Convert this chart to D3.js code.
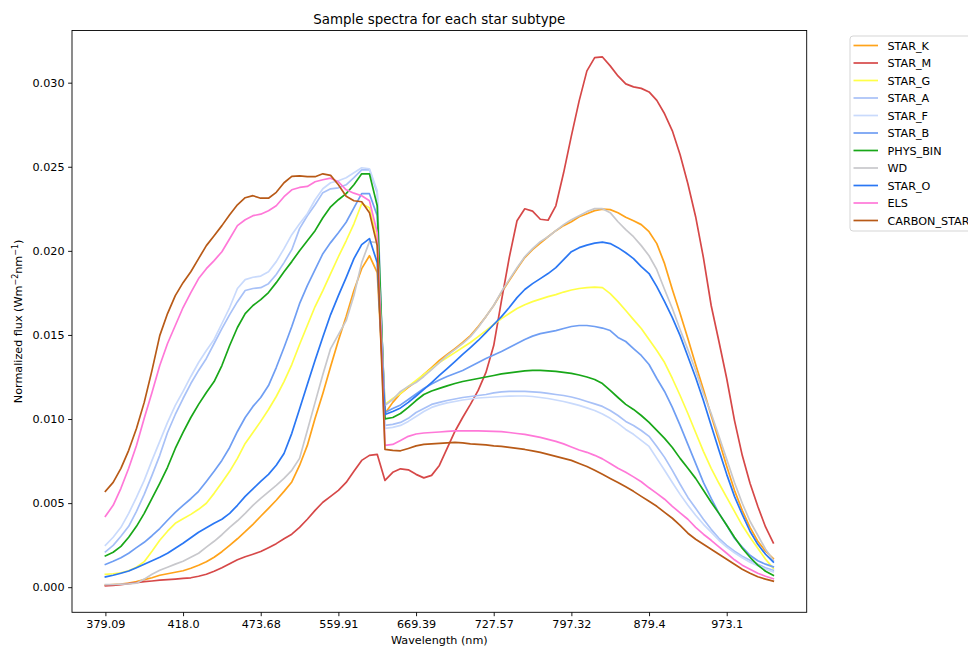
<!DOCTYPE html>
<html>
<head>
<meta charset="utf-8">
<script src="https://cdn.jsdelivr.net/npm/d3@7"></script>
<style>
  body { margin: 0; background: #fff; }
  text { font-family: "DejaVu Sans", sans-serif; }
</style>
</head>
<body>
<div id="spectraPlot"></div>
<script>
// flux per sampled pixel, in units of 1e-3 W m^-2 nm^-1
const FLUX_UNIT = 1e-3;

// sample index of each x tick and the wavelength shown there
const TICK_INDEX = [0, 10, 20, 30, 40, 50, 60, 70, 80];
const TICK_LABELS = ['379.09', '418.0', '473.68', '559.91', '669.39',
                     '727.57', '797.32', '879.4', '973.1'];
const Y_TICKS = [0, 0.005, 0.010, 0.015, 0.020, 0.025, 0.030];

const STAR_K = [0.12,0.15,0.18,0.24,0.33,0.45,0.56,0.71,0.80,0.89,
  0.98,1.13,1.31,1.51,1.78,2.11,2.49,2.88,3.30,3.74,
  4.22,4.69,5.17,5.70,6.26,7.24,8.43,10.04,11.52,13.12,
  14.67,16.09,17.64,18.94,19.71,18.70,10.33,10.99,11.52,11.88,
  12.23,12.65,13.06,13.48,13.84,14.19,14.55,14.96,15.50,16.09,
  16.75,17.52,18.23,18.94,19.60,20.07,20.46,20.84,21.20,21.50,
  21.73,22.03,22.21,22.39,22.48,22.45,22.27,22.00,21.79,21.56,
  21.14,20.43,19.24,17.70,16.27,14.79,13.24,11.76,10.21,8.73,
  7.19,5.76,4.57,3.56,2.73,2.14,1.70];
const STAR_M = [0.08,0.10,0.15,0.21,0.27,0.33,0.37,0.42,0.45,0.48,
  0.52,0.56,0.65,0.77,0.95,1.16,1.40,1.63,1.81,1.96,
  2.12,2.35,2.59,2.88,3.15,3.56,4.04,4.57,5.05,5.40,
  5.76,6.23,6.89,7.54,7.84,7.90,6.35,6.83,7.04,6.98,
  6.71,6.50,6.65,7.24,8.25,9.26,10.09,10.87,11.70,12.77,
  14.37,17.04,19.60,21.79,22.50,22.36,21.88,21.82,22.68,24.64,
  26.84,28.92,30.70,31.49,31.53,31.00,30.40,29.93,29.75,29.66,
  29.45,28.95,28.15,27.14,25.71,23.99,22.03,19.60,16.75,14.61,
  12.41,9.92,7.84,6.18,4.81,3.58,2.63];
const STAR_G = [0.77,0.80,0.86,0.98,1.19,1.52,2.14,2.79,3.33,3.80,
  4.07,4.33,4.63,4.99,5.58,6.23,6.89,7.66,8.55,9.20,
  9.86,10.57,11.34,12.23,13.24,14.43,15.56,16.69,17.64,18.65,
  19.65,20.60,21.61,22.80,22.56,20.60,10.87,11.22,11.52,11.94,
  12.29,12.65,13.00,13.36,13.66,13.95,14.25,14.55,14.90,15.26,
  15.62,15.97,16.27,16.57,16.80,16.98,17.13,17.28,17.40,17.55,
  17.67,17.76,17.81,17.84,17.81,17.46,16.98,16.45,15.91,15.38,
  14.73,14.07,13.36,12.41,11.40,10.33,9.20,8.08,7.07,6.18,
  5.34,4.51,3.68,2.97,2.32,1.66,1.13];
const STAR_A = [2.10,2.49,3.03,3.62,4.51,5.52,6.65,7.84,9.20,10.27,
  11.22,12.11,12.89,13.60,14.49,15.38,16.21,16.98,17.64,17.76,
  17.81,18.05,18.59,19.30,20.07,21.32,22.09,22.74,23.46,23.69,
  23.75,23.93,24.35,24.82,24.82,23.46,9.62,9.68,9.80,10.04,
  10.39,10.63,10.87,10.99,11.10,11.19,11.28,11.34,11.40,11.46,
  11.55,11.61,11.64,11.64,11.64,11.61,11.58,11.52,11.46,11.40,
  11.31,11.19,11.04,10.90,10.75,10.51,10.21,9.86,9.62,9.32,
  8.97,8.37,7.72,6.95,6.12,5.34,4.69,4.04,3.44,2.91,
  2.49,2.14,1.84,1.60,1.37,1.16,1.01];
const STAR_F = [2.49,2.97,3.56,4.39,5.34,6.35,7.54,8.67,9.80,10.81,
  11.64,12.53,13.36,14.07,14.73,15.68,16.63,17.76,18.29,18.43,
  18.50,18.76,19.36,20.13,20.96,21.61,22.21,23.04,23.69,24.05,
  24.17,24.35,24.64,24.94,24.88,23.57,9.44,9.50,9.62,9.86,
  10.15,10.45,10.69,10.84,10.96,11.04,11.13,11.19,11.25,11.28,
  11.31,11.34,11.36,11.37,11.37,11.34,11.28,11.22,11.13,11.04,
  10.93,10.81,10.66,10.51,10.30,10.04,9.74,9.38,9.09,8.73,
  8.37,7.66,6.95,6.23,5.52,4.87,4.28,3.74,3.27,2.79,
  2.38,2.05,1.75,1.48,1.28,1.07,0.91];
const STAR_B = [1.35,1.54,1.75,2.02,2.35,2.67,3.06,3.49,3.98,4.45,
  4.87,5.26,5.70,6.29,6.89,7.54,8.31,9.26,10.09,10.75,
  11.28,11.99,13.06,14.25,15.50,16.86,17.93,18.88,19.83,20.49,
  21.08,21.70,22.56,23.40,23.40,22.09,10.39,10.63,10.84,11.16,
  11.49,11.82,12.08,12.32,12.53,12.71,12.89,13.12,13.36,13.60,
  13.81,14.01,14.25,14.49,14.73,14.93,15.08,15.17,15.26,15.38,
  15.50,15.56,15.56,15.50,15.41,15.26,14.85,14.61,14.19,13.78,
  13.24,12.41,11.64,10.69,9.62,8.49,7.36,6.23,5.28,4.39,
  3.68,2.91,2.38,1.90,1.57,1.37,1.21];
const PHYS_BIN = [1.86,2.08,2.43,2.97,3.62,4.39,5.28,6.18,7.13,8.25,
  9.20,10.09,10.87,11.58,12.23,13.18,14.37,15.44,16.27,16.75,
  17.10,17.52,18.11,18.76,19.36,20.01,20.60,21.20,21.97,22.62,
  23.04,23.40,23.93,24.58,24.58,22.68,10.01,10.09,10.33,10.69,
  11.10,11.46,11.67,11.82,11.97,12.11,12.23,12.32,12.41,12.50,
  12.59,12.68,12.74,12.80,12.86,12.89,12.89,12.86,12.83,12.77,
  12.71,12.62,12.50,12.35,12.11,11.70,11.28,10.87,10.57,10.21,
  9.80,9.32,8.85,8.31,7.66,7.07,6.47,5.76,5.05,4.39,
  3.68,2.97,2.32,1.78,1.31,0.95,0.71];
const WD = [0.15,0.16,0.18,0.20,0.24,0.48,0.77,1.01,1.19,1.37,
  1.54,1.78,2.02,2.38,2.73,3.12,3.56,3.95,4.39,4.87,
  5.28,5.67,6.06,6.47,6.95,7.66,9.32,10.99,12.65,14.19,
  15.02,15.85,17.34,19.30,20.55,20.49,10.81,11.16,11.64,11.94,
  12.17,12.53,12.94,13.36,13.78,14.13,14.49,14.90,15.44,16.09,
  16.75,17.58,18.29,19.00,19.65,20.13,20.55,20.84,21.20,21.56,
  21.85,22.09,22.33,22.51,22.51,22.27,21.73,21.26,20.84,20.31,
  19.71,18.88,17.70,16.57,15.32,14.13,12.89,11.52,10.33,8.97,
  7.60,6.23,4.99,3.92,3.09,2.26,1.60];
const STAR_O = [0.61,0.71,0.83,0.96,1.16,1.37,1.57,1.78,2.02,2.32,
  2.61,2.94,3.27,3.53,3.80,4.04,4.39,4.87,5.40,5.85,
  6.29,6.71,7.25,7.95,9.15,10.60,12.05,13.49,14.88,16.21,
  17.34,18.41,19.54,20.37,20.73,19.30,10.27,10.45,10.66,10.99,
  11.37,11.76,12.17,12.59,13.00,13.42,13.84,14.25,14.67,15.14,
  15.62,16.09,16.63,17.22,17.70,18.05,18.35,18.65,19.00,19.48,
  19.95,20.19,20.34,20.46,20.52,20.43,20.19,19.89,19.54,19.06,
  18.65,17.87,16.98,16.03,14.96,13.72,12.47,11.10,9.62,8.14,
  6.71,5.40,4.33,3.33,2.55,1.96,1.50];
const ELS = [4.22,4.87,5.88,7.07,8.43,10.04,11.58,13.18,14.49,15.56,
  16.63,17.52,18.35,18.94,19.42,19.95,20.72,21.50,21.85,22.09,
  22.18,22.39,22.68,23.22,23.63,23.77,23.83,24.11,24.23,24.32,
  24.11,23.63,23.43,23.28,22.98,21.08,8.43,8.49,8.73,8.97,
  9.11,9.17,9.20,9.23,9.26,9.29,9.29,9.29,9.29,9.28,
  9.26,9.25,9.20,9.14,9.09,9.00,8.91,8.79,8.67,8.52,
  8.34,8.16,8.02,7.84,7.63,7.36,7.07,6.83,6.56,6.27,
  5.91,5.58,5.23,4.81,4.42,4.04,3.56,3.15,2.79,2.40,
  2.02,1.63,1.31,1.07,0.83,0.65,0.50];
const CARBON_STAR = [5.70,6.23,7.07,8.14,9.44,10.99,12.89,14.96,16.27,17.34,
  18.11,18.76,19.54,20.31,20.90,21.50,22.15,22.74,23.16,23.28,
  23.13,23.13,23.48,24.05,24.43,24.46,24.41,24.41,24.58,24.49,
  23.93,23.25,22.98,22.92,22.27,20.31,8.19,8.14,8.11,8.25,
  8.40,8.49,8.52,8.55,8.58,8.61,8.58,8.52,8.49,8.46,
  8.40,8.37,8.31,8.25,8.19,8.11,8.02,7.90,7.78,7.66,
  7.54,7.36,7.18,6.95,6.71,6.47,6.23,5.97,5.70,5.40,
  5.11,4.81,4.45,4.10,3.68,3.21,2.85,2.55,2.26,1.96,
  1.66,1.37,1.07,0.83,0.62,0.48,0.36];

const SUBTYPES = ['STAR_K', 'STAR_M', 'STAR_G', 'STAR_A', 'STAR_F', 'STAR_B',
                  'PHYS_BIN', 'WD', 'STAR_O', 'ELS', 'CARBON_STAR'];
const SERIES = [STAR_K, STAR_M, STAR_G, STAR_A, STAR_F, STAR_B,
                PHYS_BIN, WD, STAR_O, ELS, CARBON_STAR];
const LINE_COLOURS = ['#ffa31a', '#d64848', '#ffff47', '#a8c1f7', '#c9dafc', '#6f9ef3',
                      '#18a718', '#c8c8cc', '#2a77f4', '#ff78d8', '#b85a17'];

function plotSpectra() {
  var W = 968, H = 647;
  var box = {left: 72, top: 30.5, right: 806.7, bottom: 612.3};
  var fontSize = 11.2;

  var svg = d3.select("#spectraPlot")
    .append("svg")
      .attr("width", W)
      .attr("height", H);

  // matplotlib style 5% margins on both axes
  var n = SERIES[0].length;
  var xPad = 0.05 * (n - 1);
  var x = d3.scaleLinear()
            .domain([-xPad, n - 1 + xPad])
            .range([box.left, box.right]);

  var allValues = [].concat.apply([], SERIES).map(function(v) { return v * FLUX_UNIT; });
  var yMin = d3.min(allValues), yMax = d3.max(allValues);
  var yPad = 0.05 * (yMax - yMin);
  var y = d3.scaleLinear()
            .domain([yMin - yPad, yMax + yPad])
            .range([box.bottom, box.top]);

  svg.append("clipPath").attr("id", "plotArea")
    .append("rect")
      .attr("x", box.left).attr("y", box.top)
      .attr("width", box.right - box.left)
      .attr("height", box.bottom - box.top);

  // spectra
  var line = d3.line()
    .x(function(d, i) { return x(i); })
    .y(function(d) { return y(d * FLUX_UNIT); });

  svg.append("g")
      .attr("clip-path", "url(#plotArea)")
    .selectAll("path")
    .data(SERIES)
    .enter()
    .append("path")
      .attr("d", line)
      .attr("fill", "none")
      .attr("stroke", function(d, i) { return LINE_COLOURS[i]; })
      .attr("stroke-width", 1.7)
      .attr("stroke-linejoin", "round")
      .attr("stroke-linecap", "square");

  // axes
  var xAxis = svg.append("g")
    .attr("transform", "translate(0," + box.bottom + ")")
    .call(d3.axisBottom(x)
            .tickValues(TICK_INDEX)
            .tickFormat(function(d, i) { return TICK_LABELS[i]; })
            .tickSize(3.9)
            .tickPadding(3.6));
  var yAxis = svg.append("g")
    .attr("transform", "translate(" + box.left + ",0)")
    .call(d3.axisLeft(y)
            .tickValues(Y_TICKS)
            .tickFormat(d3.format(".3f"))
            .tickSize(3.9)
            .tickPadding(3.6));

  [xAxis, yAxis].forEach(function(g) {
    g.select(".domain").remove();
    g.attr("font-family", "DejaVu Sans").attr("font-size", fontSize);
    g.selectAll(".tick line").attr("stroke", "#000").attr("stroke-width", 0.9);
    g.selectAll(".tick text").attr("fill", "#000");
  });

  svg.append("rect")
      .attr("x", box.left).attr("y", box.top)
      .attr("width", box.right - box.left)
      .attr("height", box.bottom - box.top)
      .attr("fill", "none")
      .attr("stroke", "#000")
      .attr("stroke-width", 0.9);

  // titles
  var midX = (box.left + box.right) / 2;
  svg.append("text")
      .attr("x", midX)
      .attr("y", 23.5)
      .attr("text-anchor", "middle")
      .attr("font-size", 13.4)
      .text("Sample spectra for each star subtype");
  svg.append("text")
      .attr("x", midX)
      .attr("y", 644)
      .attr("text-anchor", "middle")
      .attr("font-size", fontSize)
      .text("Wavelength (nm)");

  var yLabel = svg.append("text")
      .attr("transform", "translate(22," + ((box.top + box.bottom) / 2) + ") rotate(-90)")
      .attr("text-anchor", "middle")
      .attr("font-size", fontSize);
  yLabel.append("tspan").text("Normalized flux (Wm");
  yLabel.append("tspan").attr("font-size", 8).attr("dy", -4).text("\u22122");
  yLabel.append("tspan").attr("dy", 4).text("nm");
  yLabel.append("tspan").attr("font-size", 8).attr("dy", -4).text("\u22121");
  yLabel.append("tspan").attr("dy", 4).text(")");

  // legend, sits outside the axes on the right
  var legend = svg.append("g").attr("transform", "translate(850,36)");
  legend.append("rect")
      .attr("width", 140)
      .attr("height", 195)
      .attr("rx", 3)
      .attr("fill", "#fff")
      .attr("fill-opacity", 0.8)
      .attr("stroke", "#d0d0d0")
      .attr("stroke-width", 0.9);
  var item = legend.selectAll(".item")
    .data(SUBTYPES)
    .enter()
    .append("g")
      .attr("transform", function(d, i) { return "translate(0," + (9.5 + i * 17.5) + ")"; });
  item.append("line")
      .attr("x1", 3.5).attr("x2", 28)
      .attr("stroke", function(d, i) { return LINE_COLOURS[i]; })
      .attr("stroke-width", 1.7);
  item.append("text")
      .attr("x", 37.5)
      .attr("dy", "0.36em")
      .attr("font-size", fontSize)
      .text(function(d) { return d; });
}

plotSpectra();
</script>
</body>
</html>
